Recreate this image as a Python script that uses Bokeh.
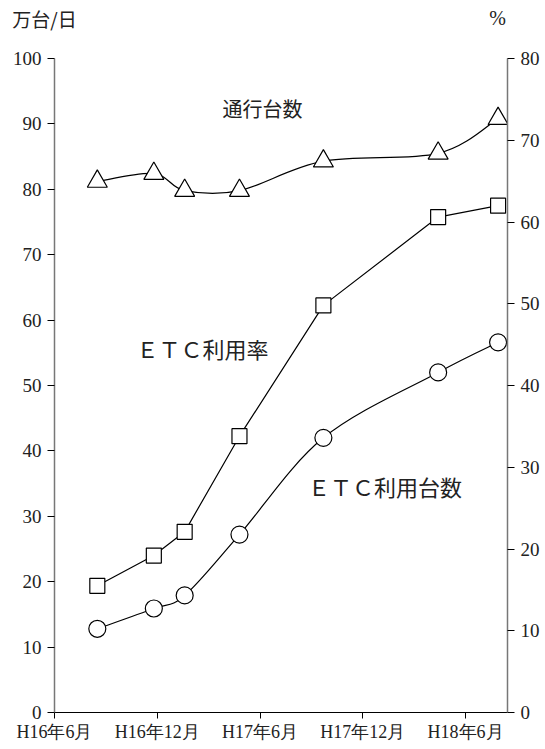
from bokeh.plotting import figure
from bokeh.models import Range1d, LinearAxis, FixedTicker, Label
from bokeh.embed import file_html
from bokeh.resources import INLINE

# months after H16年6月
months = [2.5, 5.8, 7.6, 10.8, 15.7, 22.4, 25.9]
traffic = [81.2, 82.4, 79.8, 79.8, 84.3, 85.5, 90.8]      # 通行台数 (万台/日)
etc_rate = [15.5, 19.2, 22.1, 33.8, 49.8, 60.6, 62.0]    # ETC利用率 (%)
etc_count = [12.8, 15.9, 17.9, 27.2, 42.0, 52.0, 56.6]   # ETC利用台数 (万台/日)
tick_pos = [0, 6, 12, 18, 24]
tick_labels = ["H16年6月", "H16年12月", "H17年6月", "H17年12月", "H18年6月"]

NUM_FONT = "Liberation Serif"
JP_FONT = "Noto Sans CJK JP"

p = figure(width=545, height=749, output_backend="svg", toolbar_location=None,
           x_range=Range1d(0, 26.45), y_range=Range1d(0, 100),
           min_border_left=54, min_border_right=38, min_border_top=58, min_border_bottom=37)
p.extra_y_ranges = {"pct": Range1d(0, 80)}
p.grid.visible = False
p.outline_line_color = None
p.background_fill_color = "white"
p.border_fill_color = "white"

# axes
xa = p.xaxis[0]
xa.ticker = FixedTicker(ticks=tick_pos)
xa.major_label_overrides = {t: l for t, l in zip(tick_pos, tick_labels)}
xa.minor_tick_line_color = None
xa.major_tick_out = 6
xa.major_tick_in = 0
xa.axis_line_color = "black"
xa.major_label_text_font = NUM_FONT
xa.major_label_text_font_size = "18px"
xa.major_label_text_color = "#222222"
xa.major_label_standoff = 3

ya = p.yaxis[0]
ya.ticker = FixedTicker(ticks=list(range(0, 101, 10)))
ya.minor_tick_line_color = None
ya.major_tick_out = 7
ya.major_tick_in = 0
ya.axis_line_color = "#777777"
ya.axis_line_width = 1.5
ya.major_label_text_font = NUM_FONT
ya.major_label_text_font_size = "19px"
ya.major_label_text_color = "#222222"
ya.major_label_standoff = 6

ra = LinearAxis(y_range_name="pct", ticker=FixedTicker(ticks=list(range(0, 81, 10))))
ra.minor_tick_line_color = None
ra.major_tick_out = 7
ra.major_tick_in = 0
ra.axis_line_color = "#777777"
ra.axis_line_width = 1.5
ra.major_label_text_font = NUM_FONT
ra.major_label_text_font_size = "19px"
ra.major_label_text_color = "#222222"
ra.major_label_standoff = 6
p.add_layout(ra, "right")


def smooth(xs, ys):
    # Catmull-Rom -> cubic bezier control points
    n = len(xs)
    x0, y0, x1, y1, cx0, cy0, cx1, cy1 = [], [], [], [], [], [], [], []
    for i in range(n - 1):
        a = max(i - 1, 0)
        d = min(i + 2, n - 1)
        x0.append(xs[i]); y0.append(ys[i])
        x1.append(xs[i + 1]); y1.append(ys[i + 1])
        cx0.append(xs[i] + (xs[i + 1] - xs[a]) / 6.0)
        cy0.append(ys[i] + (ys[i + 1] - ys[a]) / 6.0)
        cx1.append(xs[i + 1] - (xs[d] - xs[i]) / 6.0)
        cy1.append(ys[i + 1] - (ys[d] - ys[i]) / 6.0)
    return dict(x0=x0, y0=y0, x1=x1, y1=y1, cx0=cx0, cy0=cy0, cx1=cx1, cy1=cy1)


b1 = smooth(months, traffic)
p.bezier(x0=b1["x0"], y0=b1["y0"], x1=b1["x1"], y1=b1["y1"],
         cx0=b1["cx0"], cy0=b1["cy0"], cx1=b1["cx1"], cy1=b1["cy1"],
         line_color="black", line_width=1.2)
b2 = smooth(months, etc_count)
p.bezier(x0=b2["x0"], y0=b2["y0"], x1=b2["x1"], y1=b2["y1"],
         cx0=b2["cx0"], cy0=b2["cy0"], cx1=b2["cx1"], cy1=b2["cy1"],
         line_color="black", line_width=1.2)
p.line(months, etc_rate, y_range_name="pct", line_color="black", line_width=1.2)

p.scatter(months, traffic, marker="triangle", size=20, fill_color="white",
          line_color="black", line_width=1.2)
p.scatter(months, etc_count, marker="circle", size=17, fill_color="white",
          line_color="black", line_width=1.2)
p.scatter(months, etc_rate, marker="square", size=15, y_range_name="pct",
          fill_color="white", line_color="black", line_width=1.2)


def lab(x, y, t, size="22px", font=JP_FONT, units="data", place="center"):
    l = Label(x=x, y=y, text=t, text_font=font, text_font_size=size,
              x_units=units, y_units=units,
              text_align="center", text_baseline="middle", text_color="#222222")
    p.add_layout(l, place)


lab(12.14, 92.4, "通行台数", size="20px")
lab(8.64, 55.8, "ＥＴＣ利用率")
lab(19.3, 34.7, "ＥＴＣ利用台数")
# axis unit labels above the frame (each in its own stacked top side panel)
lab(-10, 40, "万台/日", size="19px", units="screen", place="above")
lab(443, 14, "%", size="20px", font=NUM_FONT, units="screen", place="above")

open("out.html", "w").write(file_html(p, INLINE))
